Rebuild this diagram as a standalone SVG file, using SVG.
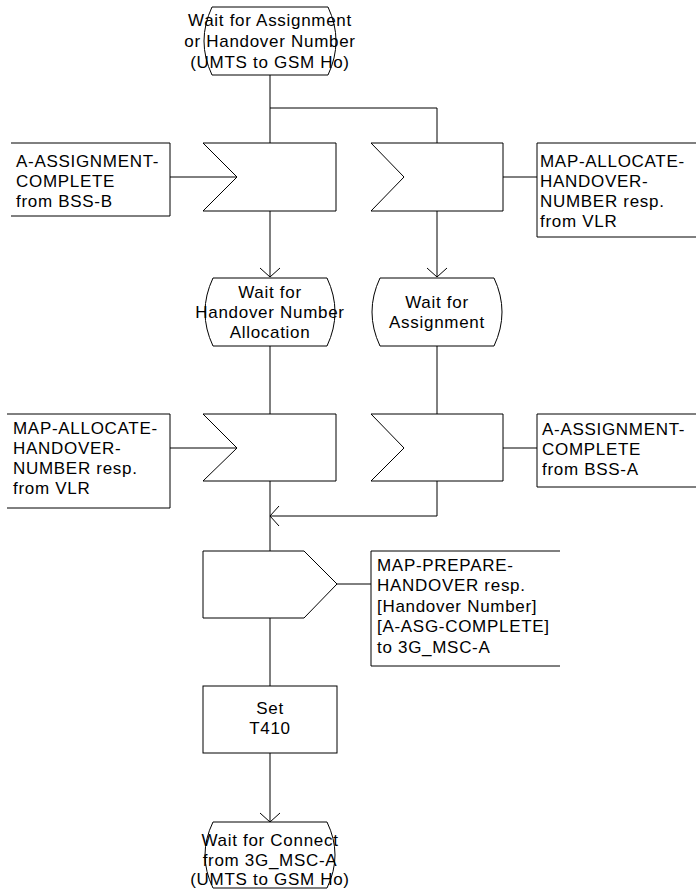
<svg xmlns="http://www.w3.org/2000/svg" width="696" height="893" viewBox="0 0 696 893">
<style>
.s{fill:#fff;stroke:#000;stroke-width:1}
.c{fill:none;stroke:#000;stroke-width:1}
.t{font-family:"Liberation Sans",Arial,sans-serif;font-size:17px;fill:#000;letter-spacing:0.7px}
.m{text-anchor:middle}
</style>
<defs>
<marker id="arr" viewBox="-11 -11 13 22" refX="0" refY="0" markerWidth="13" markerHeight="22" markerUnits="userSpaceOnUse" orient="auto">
<path d="M-9,-10 L0,0 L-9,10" fill="none" stroke="#000" stroke-width="1"/>
</marker>
</defs>
<rect width="696" height="893" fill="#fff"/>
<g id="connectors">
<path class="c" d="M270,75 V143"/>
<path class="c" d="M270,108 H437 V143"/>
<path class="c" d="M270,211 V277" marker-end="url(#arr)"/>
<path class="c" d="M437,211 V277" marker-end="url(#arr)"/>
<path class="c" d="M270,346 V414"/>
<path class="c" d="M437,346 V414"/>
<path class="c" d="M270,481 V551"/>
<path class="c" d="M437,481 V516 H270" marker-end="url(#arr)"/>
<path class="c" d="M270,618 V686"/>
<path class="c" d="M270,753 V822" marker-end="url(#arr)"/>
<path class="c" d="M170,177 H237"/>
<path class="c" d="M503,177 H537"/>
<path class="c" d="M170,448 H237"/>
<path class="c" d="M503,448 H537"/>
<path class="c" d="M337,584 H371"/>
</g>
<g id="state_wait_assign_or_ho">
<path class="s" d="M212,7 H328 Q344,41 328,75 H212 Q196,41 212,7 Z"/>
<text class="t m" x="270" y="26">Wait for Assignment</text>
<text class="t m" x="270" y="47">or Handover Number</text>
<text class="t m" x="270" y="68">(UMTS to GSM Ho)</text>
</g>
<g id="in_a_assign_complete_b">
<path class="s" d="M203,143 H336 V211 H203 L237,177 Z"/>
</g>
<g id="comment_a_assign_complete_b">
<path class="c" d="M11,143 H170 V216 H11"/>
<text class="t" x="16" y="167">A-ASSIGNMENT-</text>
<text class="t" x="16" y="187">COMPLETE</text>
<text class="t" x="16" y="207">from BSS-B</text>
</g>
<g id="in_map_alloc_ho_num_1">
<path class="s" d="M371,143 H503 V211 H371 L404,177 Z"/>
</g>
<g id="comment_map_alloc_ho_num_1">
<path class="c" d="M696,143 H537 V237 H696"/>
<text class="t" x="540" y="167">MAP-ALLOCATE-</text>
<text class="t" x="540" y="187">HANDOVER-</text>
<text class="t" x="540" y="207">NUMBER resp.</text>
<text class="t" x="540" y="227">from VLR</text>
</g>
<g id="state_wait_ho_num_alloc">
<path class="s" d="M213,278 H327 Q343,312 327,346 H213 Q197,312 213,278 Z"/>
<text class="t m" x="270" y="298">Wait for</text>
<text class="t m" x="270" y="318">Handover Number</text>
<text class="t m" x="270" y="338">Allocation</text>
</g>
<g id="state_wait_assign">
<path class="s" d="M380,278 H494 Q510,312 494,346 H380 Q364,312 380,278 Z"/>
<text class="t m" x="437" y="308">Wait for</text>
<text class="t m" x="437" y="328">Assignment</text>
</g>
<g id="in_map_alloc_ho_num_2">
<path class="s" d="M203,414 H336 V481 H203 L237,448 Z"/>
</g>
<g id="comment_map_alloc_ho_num_2">
<path class="c" d="M7,414 H170 V508 H7"/>
<text class="t" x="13" y="434">MAP-ALLOCATE-</text>
<text class="t" x="13" y="454">HANDOVER-</text>
<text class="t" x="13" y="474">NUMBER resp.</text>
<text class="t" x="13" y="494">from VLR</text>
</g>
<g id="in_a_assign_complete_a">
<path class="s" d="M371,414 H503 V481 H371 L404,448 Z"/>
</g>
<g id="comment_a_assign_complete_a">
<path class="c" d="M696,414 H537 V487 H696"/>
<text class="t" x="542" y="435">A-ASSIGNMENT-</text>
<text class="t" x="542" y="455">COMPLETE</text>
<text class="t" x="542" y="475">from BSS-A</text>
</g>
<g id="out_map_prepare_ho_resp">
<path class="s" d="M203,551 H304 L337,584 L304,618 H203 Z"/>
</g>
<g id="comment_map_prepare_ho_resp">
<path class="c" d="M560,551 H371 V666 H560"/>
<text class="t" x="377" y="571">MAP-PREPARE-</text>
<text class="t" x="377" y="591">HANDOVER resp.</text>
<text class="t" x="377" y="612">[Handover Number]</text>
<text class="t" x="377" y="632">[A-ASG-COMPLETE]</text>
<text class="t" x="377" y="653">to 3G_MSC-A</text>
</g>
<g id="task_set_t410">
<rect class="s" x="203" y="686" width="134" height="67"/>
<text class="t m" x="270" y="714">Set</text>
<text class="t m" x="270" y="734">T410</text>
</g>
<g id="state_wait_connect">
<path class="s" d="M213,822 H327 Q343,855 327,888 H213 Q197,855 213,822 Z"/>
<text class="t m" x="270" y="846">Wait for Connect</text>
<text class="t m" x="270" y="866">from 3G_MSC-A</text>
<text class="t m" x="270" y="885">(UMTS to GSM Ho)</text>
</g>
</svg>
